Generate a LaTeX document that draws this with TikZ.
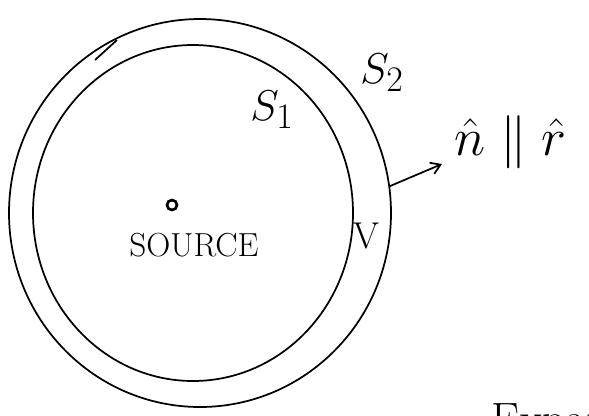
\documentclass[tikz,border=0pt]{standalone}
\usepackage{graphicx}
\usetikzlibrary{shapes.geometric, arrows.meta}
\tikzset{
  pen/.style={line width=1.3pt, black},
  shell/.style={pen, draw, ellipse, inner sep=0pt, outer sep=0pt},
  hand/.style={font=\fontsize{25}{30}\selectfont}
}
\begin{document}
\begin{tikzpicture}[x=0.75pt, y=-0.75pt]
  \clip (0,0) rectangle (589,415);
  \useasboundingbox (0,0) rectangle (589,415);

  % the two closed surfaces
  \node[shell, minimum width=240pt, minimum height=252pt] (s1) at (193,213) {};
  \node[shell, minimum width=286.5pt, minimum height=291pt] (s2) at (200,213) {};
  % stray pen mark on the outer shell
  \draw[pen] (95,60) -- (117,40);

  % the source
  \draw[pen, line width=2pt] (172,205) circle (5);
  \node[hand] (src) at (194,245) {SOURCE};

  % surface labels
  \node (lab1) at (272,110) {\Huge\scalebox{1.3}{$S_1$}};
  \node (lab2) at (382,73) {\Huge\scalebox{1.3}{$S_2$}};
  \node[font=\fontsize{28}{32}\selectfont] (vol) at (366,236) {V};

  % normal vector
  \node[anchor=west] (nr) at (450,142) {\Huge\scalebox{1.6}{$\hat{n}\parallel\hat{r}$}};
  \coordinate (tip) at (442,164);
  \draw[pen, -{Straight Barb[length=7pt, width=9pt]}] (s2.8) -- (tip);

  % cut-off note at the bottom
  \node[font=\fontsize{34}{38}\selectfont, anchor=base west] (note) at (487,434) {Expansion};
\end{tikzpicture}
\end{document}
